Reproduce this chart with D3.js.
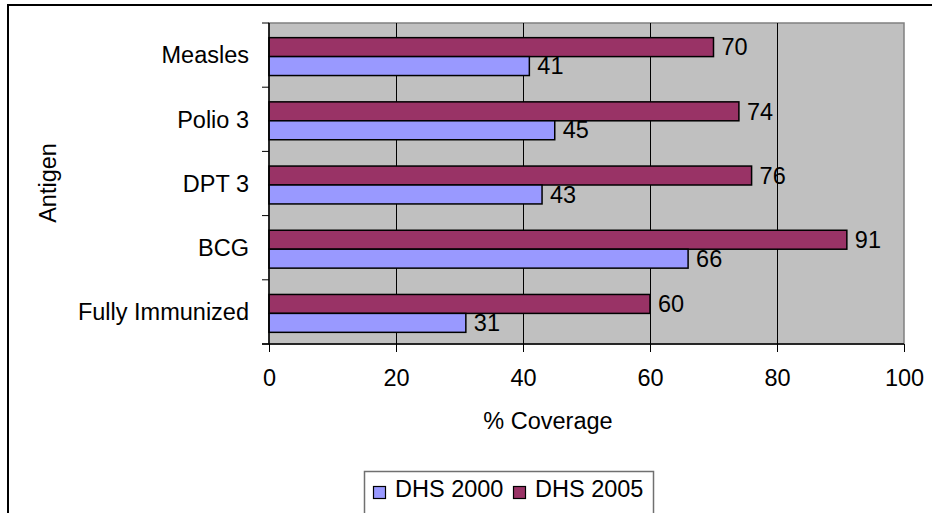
<!DOCTYPE html>
<html>
<head>
<meta charset="utf-8">
<script src="https://cdn.jsdelivr.net/npm/d3@7"></script>
<style>
  html, body { margin: 0; padding: 0; background: #fff; }
  svg { display: block; font-family: "Liberation Sans", Arial, sans-serif; }
</style>
</head>
<body>
<svg id="chart" width="932" height="513"></svg>
<script>
// Immunization coverage by antigen, two survey rounds
const antigens = ["Measles", "Polio 3", "DPT 3", "BCG", "Fully Immunized"];
const dhs2000 = [41, 45, 43, 66, 31];
const dhs2005 = [70, 74, 76, 91, 60];
const seriesNames = ["DHS 2000", "DHS 2005"];
const seriesColors = ["#9999FF", "#993366"];
const xTicks = [0, 20, 40, 60, 80, 100];

const svg = d3.select("#chart");
const fontSize = 23.5;

// outer chart frame
svg.append("rect")
  .attr("x", 8).attr("y", 5)
  .attr("width", 1000).attr("height", 600)
  .attr("fill", "#fff").attr("stroke", "#000").attr("stroke-width", 2);

const plot = { left: 269, right: 904, top: 23, bottom: 344 };

const x = d3.scaleLinear().domain([0, 100]).range([plot.left, plot.right]);
const y = d3.scaleBand().domain(antigens).range([plot.top, plot.bottom]).paddingInner(0).paddingOuter(0);

// plot background
svg.append("rect")
  .attr("x", plot.left).attr("y", plot.top)
  .attr("width", plot.right - plot.left).attr("height", plot.bottom - plot.top)
  .attr("fill", "#C0C0C0").attr("stroke", "#808080").attr("stroke-width", 1.5);

// vertical gridlines
svg.append("g").selectAll("line")
  .data(xTicks.filter(t => t > 0 && t < 100))
  .join("line")
  .attr("x1", d => Math.round(x(d)) + 0.5).attr("x2", d => Math.round(x(d)) + 0.5)
  .attr("y1", plot.top).attr("y2", plot.bottom)
  .attr("stroke", "#000").attr("stroke-width", 1);

// bars: group of two within each band
const groupH = y.bandwidth() * 0.59;
const barH = groupH / 2;
const groupOffset = (y.bandwidth() - groupH) / 2 + 1.5;
const series = [
  { name: seriesNames[1], values: dhs2005, color: seriesColors[1], slot: 0 },
  { name: seriesNames[0], values: dhs2000, color: seriesColors[0], slot: 1 }
];

const barsG = svg.append("g");
const labelsG = svg.append("g");
series.forEach(s => {
  const rows = antigens.map((a, i) => ({ cat: a, v: s.values[i] }));
  barsG.append("g").selectAll("rect")
    .data(rows)
    .join("rect")
    .attr("x", x(0))
    .attr("y", d => y(d.cat) + groupOffset + s.slot * barH)
    .attr("width", d => x(d.v) - x(0))
    .attr("height", barH)
    .attr("fill", s.color)
    .attr("stroke", "#000").attr("stroke-width", 1.5);
  labelsG.append("g").selectAll("text")
    .data(rows)
    .join("text")
    .attr("x", d => x(d.v) + 8)
    .attr("y", d => y(d.cat) + groupOffset + s.slot * barH + barH / 2)
    .attr("dy", "0.35em")
    .attr("font-size", fontSize)
    .attr("fill", "#000")
    .text(d => d.v);
});

// x axis
const xAxis = d3.axisBottom(x).tickValues(xTicks).tickSize(8).tickPadding(17).tickFormat(d3.format("d"));
const gx = svg.append("g").attr("transform", `translate(0,${plot.bottom})`).call(xAxis);
gx.select(".domain").attr("stroke", "#000").attr("stroke-width", 1.5)
  .attr("d", `M${plot.left - 7},0H${plot.right}`);
gx.selectAll(".tick line").attr("stroke", "#000");
gx.selectAll(".tick text").attr("font-size", fontSize).attr("fill", "#000")
  .attr("font-family", "Liberation Sans, Arial, sans-serif");

// y axis with ticks at category boundaries
const ga = svg.append("g");
ga.append("line")
  .attr("x1", plot.left).attr("x2", plot.left)
  .attr("y1", plot.top).attr("y2", plot.bottom)
  .attr("stroke", "#000").attr("stroke-width", 1.5);
const bounds = antigens.map(a => y(a)).concat([plot.bottom]);
ga.selectAll("line.tk")
  .data(bounds)
  .join("line").attr("class", "tk")
  .attr("x1", plot.left - 7).attr("x2", plot.left)
  .attr("y1", d => d).attr("y2", d => d)
  .attr("stroke", "#000").attr("stroke-width", 1);
ga.selectAll("text")
  .data(antigens)
  .join("text")
  .attr("x", 249)
  .attr("y", d => y(d) + y.bandwidth() / 2)
  .attr("dy", "0.35em")
  .attr("text-anchor", "end")
  .attr("font-size", fontSize)
  .text(d => d);

// axis titles
svg.append("text")
  .attr("transform", `translate(56,183) rotate(-90)`)
  .attr("text-anchor", "middle")
  .attr("font-size", fontSize)
  .text("Antigen");
svg.append("text")
  .attr("x", 548).attr("y", 429)
  .attr("text-anchor", "middle")
  .attr("font-size", fontSize)
  .text("% Coverage");

// legend
const legend = svg.append("g");
legend.append("rect")
  .attr("x", 364.5).attr("y", 471.5)
  .attr("width", 289).attr("height", 80)
  .attr("fill", "#fff").attr("stroke", "#707070").attr("stroke-width", 1.5);
const legendItems = [
  { name: seriesNames[0], color: seriesColors[0], x: 373 },
  { name: seriesNames[1], color: seriesColors[1], x: 513 }
];
legendItems.forEach(it => {
  legend.append("rect")
    .attr("x", it.x + 0.5).attr("y", 486.5)
    .attr("width", 12).attr("height", 12)
    .attr("fill", it.color).attr("stroke", "#000").attr("stroke-width", 1.2);
  legend.append("text")
    .attr("x", it.x + 22).attr("y", 497)
    .attr("font-size", fontSize)
    .text(it.name);
});
</script>
</body>
</html>
